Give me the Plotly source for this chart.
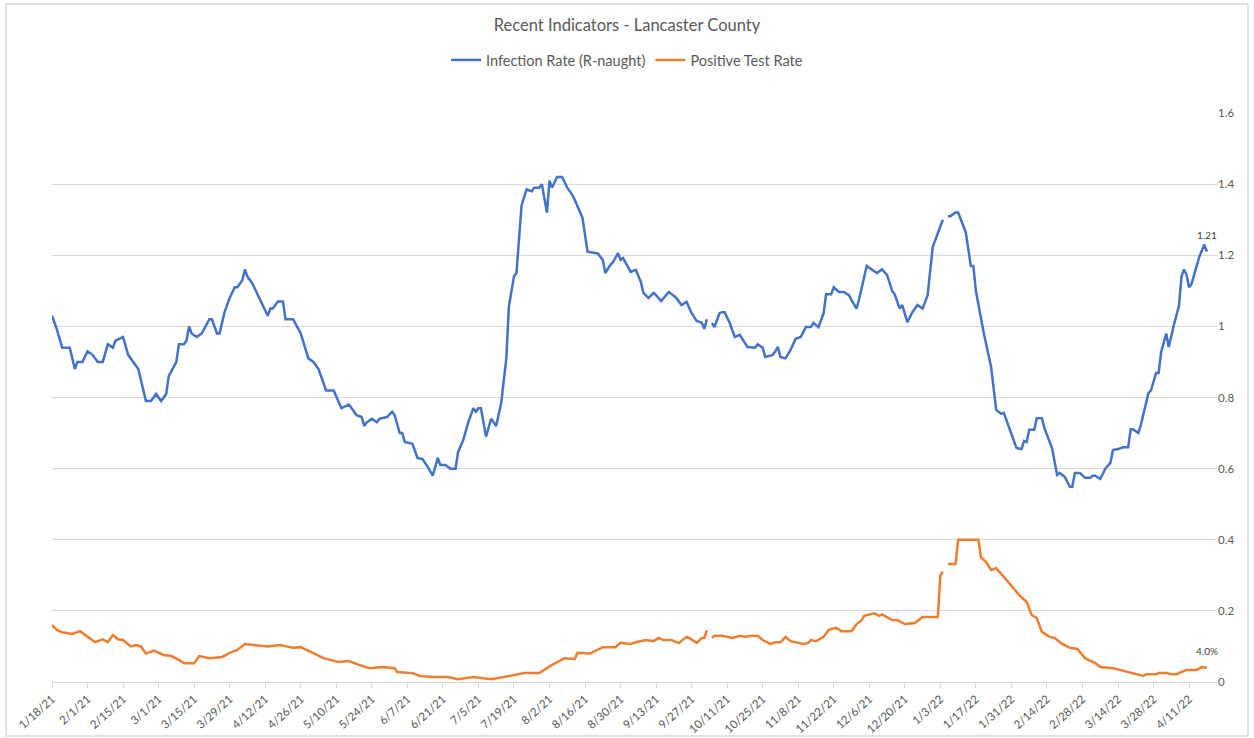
import plotly.graph_objects as go

TITLE       = "Recent Indicators - Lancaster County"
FONT        = "Lato, 'Liberation Sans', sans-serif"
TEXT_COLOR  = "#595959"
GRID_COLOR  = "#d9d9d9"
BLUE        = "#4472C4"
ORANGE      = "#ED7D31"
FIG_SIZE    = (1254, 738)
MARGIN_SIZE = dict(l=52, r=37, t=113, b=56, pad=0)

rt_dates = [
    "2021-01-18", "2021-01-20", "2021-01-22", "2021-01-25", "2021-01-27", "2021-01-28", "2021-01-30",
    "2021-02-01", "2021-02-03", "2021-02-05", "2021-02-07", "2021-02-09", "2021-02-11", "2021-02-12",
    "2021-02-15", "2021-02-17", "2021-02-21", "2021-02-24", "2021-02-26", "2021-02-28", "2021-03-02",
    "2021-03-04", "2021-03-05", "2021-03-08", "2021-03-09", "2021-03-11", "2021-03-12", "2021-03-13",
    "2021-03-14", "2021-03-16", "2021-03-18", "2021-03-21", "2021-03-22", "2021-03-24", "2021-03-25",
    "2021-03-27", "2021-03-29", "2021-03-31", "2021-04-01", "2021-04-03", "2021-04-04", "2021-04-05",
    "2021-04-07", "2021-04-09", "2021-04-11", "2021-04-13", "2021-04-14", "2021-04-15", "2021-04-17",
    "2021-04-19", "2021-04-20", "2021-04-23", "2021-04-26", "2021-04-29", "2021-05-01", "2021-05-03",
    "2021-05-06", "2021-05-09", "2021-05-12", "2021-05-15", "2021-05-18", "2021-05-20", "2021-05-21",
    "2021-05-22", "2021-05-24", "2021-05-26", "2021-05-27", "2021-05-30", "2021-06-01", "2021-06-02",
    "2021-06-04", "2021-06-05", "2021-06-06", "2021-06-09", "2021-06-11", "2021-06-13", "2021-06-15",
    "2021-06-17", "2021-06-19", "2021-06-20", "2021-06-22", "2021-06-24", "2021-06-26", "2021-06-27",
    "2021-06-29", "2021-07-01", "2021-07-03", "2021-07-04", "2021-07-05", "2021-07-06", "2021-07-07",
    "2021-07-08", "2021-07-10", "2021-07-12", "2021-07-14", "2021-07-16", "2021-07-17", "2021-07-19",
    "2021-07-20", "2021-07-21", "2021-07-22", "2021-07-24", "2021-07-26", "2021-07-27", "2021-07-29",
    "2021-07-30", "2021-08-01", "2021-08-02", "2021-08-03", "2021-08-05", "2021-08-07", "2021-08-09",
    "2021-08-11", "2021-08-12", "2021-08-15", "2021-08-17", "2021-08-21", "2021-08-23", "2021-08-24",
    "2021-08-26", "2021-08-27", "2021-08-29", "2021-08-30", "2021-08-31", "2021-09-02", "2021-09-03",
    "2021-09-05", "2021-09-07", "2021-09-08", "2021-09-10", "2021-09-12", "2021-09-13", "2021-09-15",
    "2021-09-18", "2021-09-21", "2021-09-23", "2021-09-25", "2021-09-27", "2021-09-29", "2021-10-01",
    "2021-10-02", "2021-10-03", "2021-10-04", "2021-10-05", "2021-10-06", "2021-10-08", "2021-10-09",
    "2021-10-10", "2021-10-12", "2021-10-14", "2021-10-16", "2021-10-19", "2021-10-22", "2021-10-23",
    "2021-10-25", "2021-10-26", "2021-10-29", "2021-10-30", "2021-10-31", "2021-11-01", "2021-11-03",
    "2021-11-05", "2021-11-07", "2021-11-09", "2021-11-11", "2021-11-13", "2021-11-14", "2021-11-16",
    "2021-11-18", "2021-11-19", "2021-11-21", "2021-11-22", "2021-11-24", "2021-11-26", "2021-11-28",
    "2021-11-29", "2021-12-01", "2021-12-02", "2021-12-03", "2021-12-05", "2021-12-07", "2021-12-09",
    "2021-12-11", "2021-12-13", "2021-12-15", "2021-12-16", "2021-12-18", "2021-12-19", "2021-12-21",
    "2021-12-23", "2021-12-25", "2021-12-27", "2021-12-29", "2021-12-31", "2022-01-02", "2022-01-04",
    "2022-01-05", "2022-01-06", "2022-01-07", "2022-01-09", "2022-01-10", "2022-01-13", "2022-01-15",
    "2022-01-16", "2022-01-17", "2022-01-20", "2022-01-23", "2022-01-25", "2022-01-27", "2022-01-28",
    "2022-01-31", "2022-02-02", "2022-02-04", "2022-02-05", "2022-02-06", "2022-02-07", "2022-02-09",
    "2022-02-10", "2022-02-12", "2022-02-13", "2022-02-16", "2022-02-18", "2022-02-19", "2022-02-21",
    "2022-02-23", "2022-02-24", "2022-02-25", "2022-02-27", "2022-03-01", "2022-03-03", "2022-03-04",
    "2022-03-05", "2022-03-07", "2022-03-09", "2022-03-11", "2022-03-12", "2022-03-14", "2022-03-16",
    "2022-03-18", "2022-03-19", "2022-03-20", "2022-03-22", "2022-03-23", "2022-03-26", "2022-03-27",
    "2022-03-29", "2022-03-30", "2022-03-31", "2022-04-02", "2022-04-03", "2022-04-05", "2022-04-07",
    "2022-04-08", "2022-04-09", "2022-04-10", "2022-04-11", "2022-04-12", "2022-04-14", "2022-04-15",
    "2022-04-17", "2022-04-18",
]
rt_vals = [
    1.03, 0.99, 0.94, 0.94, 0.88, 0.90, 0.90,
    0.93, 0.92, 0.90, 0.90, 0.95, 0.94, 0.96,
    0.97, 0.92, 0.88, 0.79, 0.79, 0.81, 0.79,
    0.81, 0.86, 0.90, 0.95, 0.95, 0.96, 1.00,
    0.98, 0.97, 0.98, 1.02, 1.02, 0.98, 0.98,
    1.04, 1.08, 1.11, 1.11, 1.13, 1.16, 1.14,
    1.12, 1.09, 1.06, 1.03, 1.05, 1.05, 1.07,
    1.07, 1.02, 1.02, 0.98, 0.91, 0.90, 0.88,
    0.82, 0.82, 0.77, 0.78, 0.75, 0.745, 0.72,
    0.73, 0.74, 0.73, 0.74, 0.745, 0.76, 0.75,
    0.70, 0.70, 0.675, 0.67, 0.63, 0.627, 0.605,
    0.58, 0.63, 0.61, 0.61, 0.60, 0.60, 0.647,
    0.68, 0.73, 0.77, 0.76, 0.77, 0.77, 0.73,
    0.69, 0.74, 0.72, 0.785, 0.91, 1.055, 1.14,
    1.15, 1.24, 1.34, 1.385, 1.38, 1.39, 1.39,
    1.40, 1.32, 1.41, 1.39, 1.42, 1.42, 1.39,
    1.37, 1.355, 1.305, 1.21, 1.205, 1.187, 1.15,
    1.173, 1.18, 1.206, 1.187, 1.192, 1.167, 1.153,
    1.159, 1.125, 1.094, 1.08, 1.094, 1.088, 1.071,
    1.097, 1.08, 1.06, 1.069, 1.037, 1.015, 1.01,
    0.993, 1.02, None, 1.01, 0.998, 1.037, 1.04,
    1.04, 1.01, 0.97, 0.976, 0.942, 0.94, 0.95,
    0.94, 0.914, 0.92, 0.93, 0.942, 0.914, 0.91,
    0.934, 0.965, 0.97, 0.998, 0.998, 1.01, 0.998,
    1.037, 1.09, 1.09, 1.11, 1.097, 1.097, 1.088,
    1.074, 1.05, 1.077, 1.11, 1.17, 1.16, 1.15,
    1.16, 1.145, 1.10, 1.09, 1.05, 1.06, 1.012,
    1.04, 1.06, 1.05, 1.088, 1.223, 1.262, 1.30,
    None, 1.31, 1.31, 1.32, 1.32, 1.265, 1.17,
    1.17, 1.10, 0.985, 0.886, 0.765, 0.754, 0.757,
    0.70, 0.658, 0.655, 0.678, 0.675, 0.709, 0.709,
    0.742, 0.742, 0.714, 0.658, 0.582, 0.588, 0.577,
    0.549, 0.549, 0.588, 0.588, 0.574, 0.574, 0.58,
    0.58, 0.571, 0.60, 0.616, 0.652, 0.655, 0.66,
    0.66, 0.711, 0.71, 0.70, 0.723, 0.813, 0.82,
    0.869, 0.869, 0.928, 0.98, 0.942, 1.004, 1.057,
    1.14, 1.16, 1.145, 1.11, 1.12, 1.17, 1.195,
    1.23, 1.21,
]

pos_dates = [
    "2021-01-18", "2021-01-20", "2021-01-22", "2021-01-26", "2021-01-29", "2021-02-01", "2021-02-04",
    "2021-02-07", "2021-02-09", "2021-02-11", "2021-02-13", "2021-02-15", "2021-02-18", "2021-02-20",
    "2021-02-22", "2021-02-24", "2021-02-27", "2021-03-03", "2021-03-06", "2021-03-09", "2021-03-11",
    "2021-03-15", "2021-03-17", "2021-03-21", "2021-03-26", "2021-03-29", "2021-04-01", "2021-04-04",
    "2021-04-08", "2021-04-13", "2021-04-18", "2021-04-23", "2021-04-26", "2021-05-01", "2021-05-05",
    "2021-05-11", "2021-05-15", "2021-05-19", "2021-05-23", "2021-05-28", "2021-06-02", "2021-06-03",
    "2021-06-09", "2021-06-12", "2021-06-17", "2021-06-23", "2021-06-27", "2021-07-03", "2021-07-10",
    "2021-07-15", "2021-07-20", "2021-07-23", "2021-07-29", "2021-08-03", "2021-08-08", "2021-08-12",
    "2021-08-13", "2021-08-18", "2021-08-23", "2021-08-28", "2021-08-30", "2021-09-03", "2021-09-05",
    "2021-09-09", "2021-09-12", "2021-09-14", "2021-09-16", "2021-09-19", "2021-09-21", "2021-09-22",
    "2021-09-25", "2021-09-26", "2021-09-29", "2021-10-01", "2021-10-02", "2021-10-03", "2021-10-04",
    "2021-10-05", "2021-10-06", "2021-10-09", "2021-10-11", "2021-10-13", "2021-10-16", "2021-10-18",
    "2021-10-21", "2021-10-23", "2021-10-25", "2021-10-28", "2021-10-30", "2021-11-01", "2021-11-03",
    "2021-11-05", "2021-11-08", "2021-11-10", "2021-11-12", "2021-11-13", "2021-11-15", "2021-11-18",
    "2021-11-20", "2021-11-21", "2021-11-23", "2021-11-25", "2021-11-29", "2021-12-01", "2021-12-03",
    "2021-12-04", "2021-12-08", "2021-12-10", "2021-12-11", "2021-12-13", "2021-12-15", "2021-12-17",
    "2021-12-20", "2021-12-24", "2021-12-25", "2021-12-27", "2022-01-02", "2022-01-03", "2022-01-04",
    "2022-01-05", "2022-01-06", "2022-01-09", "2022-01-10", "2022-01-18", "2022-01-19", "2022-01-21",
    "2022-01-23", "2022-01-25", "2022-01-29", "2022-02-03", "2022-02-06", "2022-02-08", "2022-02-10",
    "2022-02-12", "2022-02-15", "2022-02-17", "2022-02-20", "2022-02-23", "2022-02-26", "2022-03-01",
    "2022-03-05", "2022-03-07", "2022-03-12", "2022-03-15", "2022-03-20", "2022-03-24", "2022-03-25",
    "2022-03-29", "2022-03-30", "2022-04-02", "2022-04-04", "2022-04-06", "2022-04-10", "2022-04-14",
    "2022-04-16", "2022-04-18",
]
pos_vals = [
    0.16, 0.146, 0.14, 0.135, 0.143, 0.127, 0.112,
    0.12, 0.112, 0.132, 0.12, 0.118, 0.10, 0.104,
    0.10, 0.08, 0.088, 0.076, 0.073, 0.062, 0.053,
    0.053, 0.073, 0.067, 0.07, 0.082, 0.09, 0.107,
    0.104, 0.10, 0.104, 0.096, 0.098, 0.082, 0.067,
    0.056, 0.059, 0.048, 0.039, 0.042, 0.039, 0.028,
    0.025, 0.017, 0.014, 0.014, 0.008, 0.014, 0.008,
    0.014, 0.022, 0.025, 0.025, 0.048, 0.067, 0.065,
    0.082, 0.08, 0.098, 0.098, 0.11, 0.107, 0.112,
    0.118, 0.115, 0.124, 0.118, 0.118, 0.112, 0.11,
    0.127, 0.124, 0.11, 0.124, 0.124, 0.145, None,
    0.124, 0.13, 0.13, 0.127, 0.124, 0.13, 0.127,
    0.13, 0.13, 0.118, 0.107, 0.112, 0.112, 0.127,
    0.115, 0.11, 0.107, 0.11, 0.118, 0.115, 0.127,
    0.146, 0.149, 0.152, 0.143, 0.143, 0.163, 0.174,
    0.186, 0.193, 0.186, 0.19, 0.183, 0.174, 0.174,
    0.163, 0.166, 0.172, 0.183, 0.183, 0.30, 0.31,
    None, 0.332, 0.332, 0.40, 0.40, 0.35, 0.338,
    0.315, 0.32, 0.287, 0.245, 0.225, 0.188, 0.18,
    0.141, 0.127, 0.124, 0.107, 0.096, 0.093, 0.067,
    0.053, 0.042, 0.039, 0.034, 0.025, 0.017, 0.022,
    0.022, 0.025, 0.025, 0.022, 0.022, 0.034, 0.034,
    0.042, 0.04,
]

x_range  = ["2021-01-18", "2022-04-22"]
y_ticks  = [0, 0.2, 0.4, 0.6, 0.8, 1.0, 1.2, 1.4, 1.6]
DAY_MS   = 86400000

fig = go.Figure()

fig.add_trace(
    go.Scatter(
        x       = rt_dates
        , y     = rt_vals
        , mode  = "lines"
        , name  = "Infection Rate (R-naught)"
        , line  = dict(color=BLUE, width=2.5)
    )
)
fig.add_trace(
    go.Scatter(
        x       = pos_dates
        , y     = pos_vals
        , mode  = "lines"
        , name  = "Positive Test Rate"
        , line  = dict(color=ORANGE, width=2.5)
    )
)

# data labels on the last points
fig.add_annotation(
    x=rt_dates[-1], y=rt_vals[-1], text=f"{rt_vals[-1]:.2f}", showarrow=False
    , yshift=17, font=dict(size=10, color="#404040", family=FONT)
)
fig.add_annotation(
    x=pos_dates[-1], y=pos_vals[-1], text=f"{pos_vals[-1]:.1%}", showarrow=False
    , yshift=17, font=dict(size=10, color="#404040", family=FONT)
)

# chart area border
pw = FIG_SIZE[0] - MARGIN_SIZE["l"] - MARGIN_SIZE["r"]
ph = FIG_SIZE[1] - MARGIN_SIZE["t"] - MARGIN_SIZE["b"]
fig.add_shape(
    type="rect", xref="paper", yref="paper"
    , x0=(6 - MARGIN_SIZE["l"]) / pw, x1=(1248 - MARGIN_SIZE["l"]) / pw
    , y0=-(736 - (FIG_SIZE[1] - MARGIN_SIZE["b"])) / ph, y1=1 + (MARGIN_SIZE["t"] - 4) / ph
    , line=dict(color=GRID_COLOR, width=1.5), layer="below"
)

fig.update_layout(
    width           = FIG_SIZE[0]
    , height        = FIG_SIZE[1]
    , margin        = MARGIN_SIZE
    , paper_bgcolor = "white"
    , plot_bgcolor  = "white"
    , font          = dict(family=FONT, color=TEXT_COLOR, size=11)
    , title         = dict(
        text=TITLE, x=0.5, xref="container", xanchor="center"
        , y=1 - 25 / FIG_SIZE[1], yref="container", yanchor="middle"
        , font=dict(size=16.5, color=TEXT_COLOR, family=FONT)
    )
    , legend        = dict(
        orientation="h", x=0.5, xref="container", xanchor="center"
        , y=1 - 60 / FIG_SIZE[1], yref="container", yanchor="middle"
        , font=dict(size=14.5, color=TEXT_COLOR, family=FONT)
        , itemwidth=30
    )
    , showlegend    = True
    , xaxis         = dict(
        type="date", range=x_range, automargin=False
        , tick0="2021-01-18", dtick=14 * DAY_MS, tickformat="%-m/%-d/%y"
        , tickangle=-42, ticks="outside", ticklen=5, tickcolor=GRID_COLOR
        , showline=True, linecolor=GRID_COLOR, linewidth=1
        , showgrid=False, zeroline=False
        , tickfont=dict(size=11.5, color=TEXT_COLOR)
    )
    , yaxis         = dict(
        side="right", range=[0, 1.6], tickvals=y_ticks, automargin=False
        , ticktext=[f"{v:g}" for v in y_ticks]
        , showgrid=True, gridcolor=GRID_COLOR, gridwidth=1
        , zeroline=False, showline=False, ticks=""
        , tickfont=dict(size=11.5, color=TEXT_COLOR)
    )
)

# the page body has an 8px margin by default; drop it so the figure fills the window
fig.write_html(
    "out.html"
    , config={"displayModeBar": False}
    , post_script="document.body.style.margin = '0px';"
)
